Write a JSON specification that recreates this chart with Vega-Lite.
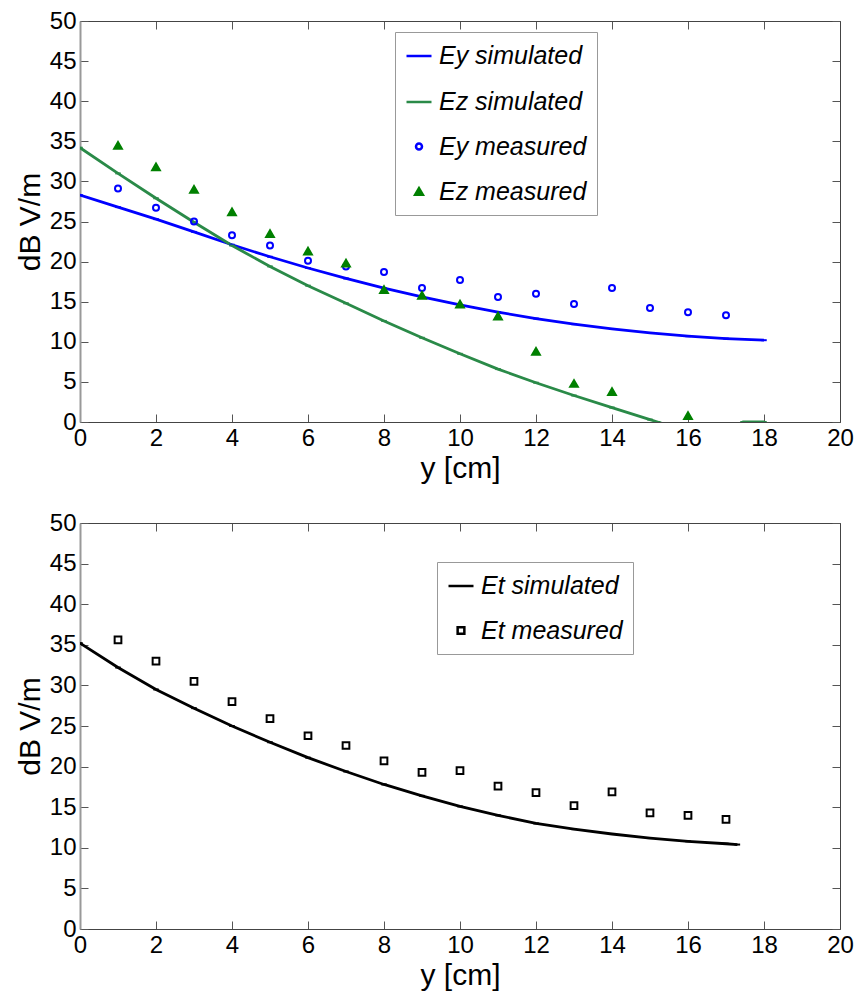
{
  "$schema": "https://vega.github.io/schema/vega-lite/v6.json",
  "padding": {"left": 15, "top": 9, "right": 2, "bottom": 2},
  "background": "white",
  "config": {
    "font": "Liberation Sans",
    "view": {"stroke": null},
    "axis": {
      "grid": false,
      "labelFontSize": 24,
      "labelColor": "#000",
      "labelFont": "Liberation Sans",
      "labelFlush": false,
      "labelOverlap": false,
      "titleFont": "Liberation Sans",
      "titleFontSize": 30,
      "titleFontWeight": "normal",
      "titleColor": "#000",
      "tickColor": "#555",
      "tickSize": -8,
      "tickWidth": 1,
      "domainColor": "#444",
      "domainWidth": 1,
      "labelPadding": 12
    }
  },
  "datasets": {
    "top": [
      {"x": 0, "v": 28.3, "s": "Ey simulated"},
      {"x": 1, "v": 26.8, "s": "Ey simulated"},
      {"x": 2, "v": 25.3, "s": "Ey simulated"},
      {"x": 3, "v": 23.7, "s": "Ey simulated"},
      {"x": 4, "v": 22.1, "s": "Ey simulated"},
      {"x": 5, "v": 20.6, "s": "Ey simulated"},
      {"x": 6, "v": 19.2, "s": "Ey simulated"},
      {"x": 7, "v": 17.9, "s": "Ey simulated"},
      {"x": 8, "v": 16.7, "s": "Ey simulated"},
      {"x": 9, "v": 15.6, "s": "Ey simulated"},
      {"x": 10, "v": 14.6, "s": "Ey simulated"},
      {"x": 11, "v": 13.7, "s": "Ey simulated"},
      {"x": 12, "v": 12.9, "s": "Ey simulated"},
      {"x": 13, "v": 12.2, "s": "Ey simulated"},
      {"x": 14, "v": 11.6, "s": "Ey simulated"},
      {"x": 15, "v": 11.1, "s": "Ey simulated"},
      {"x": 16, "v": 10.7, "s": "Ey simulated"},
      {"x": 17, "v": 10.4, "s": "Ey simulated"},
      {"x": 18, "v": 10.2, "s": "Ey simulated"},
      {"x": 0, "v": 34.2, "s": "Ez simulated"},
      {"x": 1, "v": 31.0, "s": "Ez simulated"},
      {"x": 2, "v": 27.9, "s": "Ez simulated"},
      {"x": 3, "v": 24.9, "s": "Ez simulated"},
      {"x": 4, "v": 22.0, "s": "Ez simulated"},
      {"x": 5, "v": 19.4, "s": "Ez simulated"},
      {"x": 6, "v": 17.0, "s": "Ez simulated"},
      {"x": 7, "v": 14.8, "s": "Ez simulated"},
      {"x": 8, "v": 12.6, "s": "Ez simulated"},
      {"x": 9, "v": 10.5, "s": "Ez simulated"},
      {"x": 10, "v": 8.5, "s": "Ez simulated"},
      {"x": 11, "v": 6.6, "s": "Ez simulated"},
      {"x": 12, "v": 4.9, "s": "Ez simulated"},
      {"x": 13, "v": 3.3, "s": "Ez simulated"},
      {"x": 14, "v": 1.8, "s": "Ez simulated"},
      {"x": 15, "v": 0.3, "s": "Ez simulated"},
      {"x": 15.2, "v": 0, "s": "Ez simulated"},
      {"x": 16, "v": -1.2, "s": "Ez simulated"},
      {"x": 17, "v": -1.0, "s": "Ez simulated"},
      {"x": 17.45, "v": 0, "s": "Ez simulated"},
      {"x": 18, "v": 0, "s": "Ez simulated"},
      {"x": 1, "v": 29.1, "s": "Ey measured"},
      {"x": 2, "v": 26.7, "s": "Ey measured"},
      {"x": 3, "v": 25.0, "s": "Ey measured"},
      {"x": 4, "v": 23.3, "s": "Ey measured"},
      {"x": 5, "v": 22.0, "s": "Ey measured"},
      {"x": 6, "v": 20.1, "s": "Ey measured"},
      {"x": 7, "v": 19.4, "s": "Ey measured"},
      {"x": 8, "v": 18.7, "s": "Ey measured"},
      {"x": 9, "v": 16.7, "s": "Ey measured"},
      {"x": 10, "v": 17.7, "s": "Ey measured"},
      {"x": 11, "v": 15.6, "s": "Ey measured"},
      {"x": 12, "v": 16.0, "s": "Ey measured"},
      {"x": 13, "v": 14.7, "s": "Ey measured"},
      {"x": 14, "v": 16.7, "s": "Ey measured"},
      {"x": 15, "v": 14.2, "s": "Ey measured"},
      {"x": 16, "v": 13.7, "s": "Ey measured"},
      {"x": 17, "v": 13.3, "s": "Ey measured"},
      {"x": 1, "v": 34.5, "s": "Ez measured"},
      {"x": 2, "v": 31.8, "s": "Ez measured"},
      {"x": 3, "v": 29.0, "s": "Ez measured"},
      {"x": 4, "v": 26.2, "s": "Ez measured"},
      {"x": 5, "v": 23.5, "s": "Ez measured"},
      {"x": 6, "v": 21.3, "s": "Ez measured"},
      {"x": 7, "v": 19.8, "s": "Ez measured"},
      {"x": 8, "v": 16.5, "s": "Ez measured"},
      {"x": 9, "v": 15.8, "s": "Ez measured"},
      {"x": 10, "v": 14.7, "s": "Ez measured"},
      {"x": 11, "v": 13.2, "s": "Ez measured"},
      {"x": 12, "v": 8.8, "s": "Ez measured"},
      {"x": 13, "v": 4.8, "s": "Ez measured"},
      {"x": 14, "v": 3.8, "s": "Ez measured"},
      {"x": 16, "v": 0.8, "s": "Ez measured"}
    ],
    "bottom": [
      {"x": 0, "v": 35.2, "s": "Et simulated"},
      {"x": 1, "v": 32.2, "s": "Et simulated"},
      {"x": 2, "v": 29.5, "s": "Et simulated"},
      {"x": 3, "v": 27.2, "s": "Et simulated"},
      {"x": 4, "v": 25.0, "s": "Et simulated"},
      {"x": 5, "v": 23.0, "s": "Et simulated"},
      {"x": 6, "v": 21.1, "s": "Et simulated"},
      {"x": 7, "v": 19.4, "s": "Et simulated"},
      {"x": 8, "v": 17.8, "s": "Et simulated"},
      {"x": 9, "v": 16.4, "s": "Et simulated"},
      {"x": 10, "v": 15.1, "s": "Et simulated"},
      {"x": 11, "v": 14.0, "s": "Et simulated"},
      {"x": 12, "v": 13.0, "s": "Et simulated"},
      {"x": 13, "v": 12.3, "s": "Et simulated"},
      {"x": 14, "v": 11.7, "s": "Et simulated"},
      {"x": 15, "v": 11.2, "s": "Et simulated"},
      {"x": 16, "v": 10.8, "s": "Et simulated"},
      {"x": 17, "v": 10.5, "s": "Et simulated"},
      {"x": 17.3, "v": 10.4, "s": "Et simulated"},
      {"x": 1, "v": 35.6, "s": "Et measured"},
      {"x": 2, "v": 33.0, "s": "Et measured"},
      {"x": 3, "v": 30.5, "s": "Et measured"},
      {"x": 4, "v": 28.0, "s": "Et measured"},
      {"x": 5, "v": 25.9, "s": "Et measured"},
      {"x": 6, "v": 23.8, "s": "Et measured"},
      {"x": 7, "v": 22.6, "s": "Et measured"},
      {"x": 8, "v": 20.7, "s": "Et measured"},
      {"x": 9, "v": 19.3, "s": "Et measured"},
      {"x": 10, "v": 19.5, "s": "Et measured"},
      {"x": 11, "v": 17.6, "s": "Et measured"},
      {"x": 12, "v": 16.8, "s": "Et measured"},
      {"x": 13, "v": 15.2, "s": "Et measured"},
      {"x": 14, "v": 16.9, "s": "Et measured"},
      {"x": 15, "v": 14.3, "s": "Et measured"},
      {"x": 16, "v": 14.0, "s": "Et measured"},
      {"x": 17, "v": 13.5, "s": "Et measured"}
    ]
  },
  "spacing": 28,
  "resolve": {"scale": {"stroke": "independent", "fill": "independent", "shape": "independent", "size": "independent"}, "legend": {"stroke": "independent", "fill": "independent", "shape": "independent", "size": "independent"}},
  "vconcat": [
    {
      "width": 760,
      "height": 401,
      "data": {"name": "top"},
      "resolve": {"axis": {"x": "independent", "y": "independent"}},
      "layer": [
        {
          "transform": [{"filter": "indexof(datum.s, 'simulated') >= 0"}],
          "mark": {"type": "line", "strokeWidth": 2.8, "clip": true},
          "encoding": {
            "x": {"field": "x", "type": "quantitative", "scale": {"domain": [0, 20], "nice": false},
                  "axis": {"values": [0, 2, 4, 6, 8, 10, 12, 14, 16, 18, 20], "title": "y [cm]", "titlePadding": 3}},
            "y": {"field": "v", "type": "quantitative", "scale": {"domain": [0, 50], "nice": false},
                  "axis": {"values": [0, 5, 10, 15, 20, 25, 30, 35, 40, 45, 50], "title": "dB V/m", "titlePadding": 4, "domainColor": "#999", "domainWidth": 2}},
            "stroke": {"field": "s", "type": "nominal",
                       "scale": {"domain": ["Ey simulated", "Ez simulated", "Ey measured", "Ez measured"], "range": ["#0000ff", "#2a8a48", "#0000ff", "#008000"]},
                       "legend": {"orient": "none", "legendX": 315, "legendY": 11, "title": null, "direction": "vertical",
                                  "labelFontSize": 25, "labelFontStyle": "italic", "labelColor": "#000", "labelFont": "Liberation Sans",
                                  "strokeColor": "#999", "fillColor": "white", "padding": 10, "rowPadding": 19,
                                  "symbolStrokeWidth": 2.5, "labelLimit": 300, "labelOffset": 6}},
            "fill": {"field": "s", "type": "nominal",
                     "scale": {"domain": ["Ey simulated", "Ez simulated", "Ey measured", "Ez measured"], "range": ["transparent", "transparent", "transparent", "#008000"]},
                     "legend": {"orient": "none", "legendX": 315, "legendY": 11, "title": null}},
            "shape": {"field": "s", "type": "nominal",
                      "scale": {"domain": ["Ey simulated", "Ez simulated", "Ey measured", "Ez measured"], "range": ["stroke", "stroke", "circle", "triangle-up"]},
                      "legend": {"orient": "none", "legendX": 315, "legendY": 11, "title": null}}
          }
        },
        {
          "transform": [{"filter": "indexof(datum.s, 'measured') >= 0"}],
          "mark": {"type": "point", "strokeWidth": 2, "opacity": 1},
          "encoding": {
            "x": {"field": "x", "type": "quantitative", "scale": {"domain": [0, 20], "nice": false},
                  "axis": {"orient": "top", "values": [0, 2, 4, 6, 8, 10, 12, 14, 16, 18, 20], "labels": false, "title": null}},
            "y": {"field": "v", "type": "quantitative", "scale": {"domain": [0, 50], "nice": false},
                  "axis": {"orient": "right", "values": [0, 5, 10, 15, 20, 25, 30, 35, 40, 45, 50], "labels": false, "title": null}},
            "stroke": {"field": "s", "type": "nominal"},
            "fill": {"field": "s", "type": "nominal"},
            "shape": {"field": "s", "type": "nominal"},
            "size": {"field": "s", "type": "nominal",
                     "scale": {"type": "ordinal", "domain": ["Ey simulated", "Ez simulated", "Ey measured", "Ez measured"], "range": [625, 625, 36, 60]},
                     "legend": {"orient": "none", "legendX": 315, "legendY": 11, "title": null}}
          }
        }
      ]
    },
    {
      "width": 760,
      "height": 406,
      "data": {"name": "bottom"},
      "resolve": {"axis": {"x": "independent", "y": "independent"}},
      "layer": [
        {
          "transform": [{"filter": "indexof(datum.s, 'simulated') >= 0"}],
          "mark": {"type": "line", "strokeWidth": 2.8, "clip": true},
          "encoding": {
            "x": {"field": "x", "type": "quantitative", "scale": {"domain": [0, 20], "nice": false},
                  "axis": {"values": [0, 2, 4, 6, 8, 10, 12, 14, 16, 18, 20], "title": "y [cm]", "titlePadding": 3}},
            "y": {"field": "v", "type": "quantitative", "scale": {"domain": [0, 50], "nice": false},
                  "axis": {"values": [0, 5, 10, 15, 20, 25, 30, 35, 40, 45, 50], "title": "dB V/m", "titlePadding": 4, "domainColor": "#999", "domainWidth": 2}},
            "stroke": {"field": "s", "type": "nominal",
                       "scale": {"domain": ["Et simulated", "Et measured"], "range": ["#000000", "#000000"]},
                       "legend": {"orient": "none", "legendX": 357, "legendY": 39, "title": null, "direction": "vertical",
                                  "labelFontSize": 25, "labelFontStyle": "italic", "labelColor": "#000", "labelFont": "Liberation Sans",
                                  "strokeColor": "#999", "fillColor": "white", "padding": 10, "rowPadding": 19,
                                  "symbolStrokeWidth": 2.5, "labelLimit": 300, "labelOffset": 6}},
            "fill": {"field": "s", "type": "nominal",
                     "scale": {"domain": ["Et simulated", "Et measured"], "range": ["transparent", "transparent"]},
                     "legend": {"orient": "none", "legendX": 357, "legendY": 39, "title": null}},
            "shape": {"field": "s", "type": "nominal",
                      "scale": {"domain": ["Et simulated", "Et measured"], "range": ["stroke", "square"]},
                      "legend": {"orient": "none", "legendX": 357, "legendY": 39, "title": null}}
          }
        },
        {
          "transform": [{"filter": "indexof(datum.s, 'measured') >= 0"}],
          "mark": {"type": "point", "strokeWidth": 2, "opacity": 1},
          "encoding": {
            "x": {"field": "x", "type": "quantitative", "scale": {"domain": [0, 20], "nice": false},
                  "axis": {"orient": "top", "values": [0, 2, 4, 6, 8, 10, 12, 14, 16, 18, 20], "labels": false, "title": null}},
            "y": {"field": "v", "type": "quantitative", "scale": {"domain": [0, 50], "nice": false},
                  "axis": {"orient": "right", "values": [0, 5, 10, 15, 20, 25, 30, 35, 40, 45, 50], "labels": false, "title": null}},
            "stroke": {"field": "s", "type": "nominal"},
            "fill": {"field": "s", "type": "nominal"},
            "shape": {"field": "s", "type": "nominal"},
            "size": {"field": "s", "type": "nominal",
                     "scale": {"type": "ordinal", "domain": ["Et simulated", "Et measured"], "range": [625, 45]},
                     "legend": {"orient": "none", "legendX": 357, "legendY": 39, "title": null}}
          }
        }
      ]
    }
  ]
}
